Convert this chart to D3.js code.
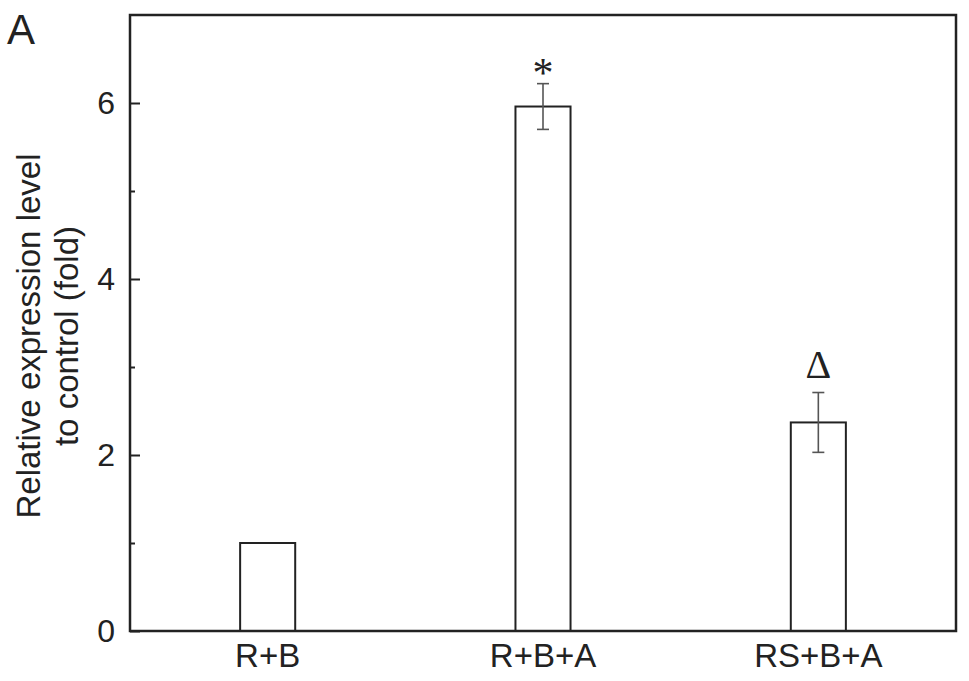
<!DOCTYPE html>
<html>
<head>
<meta charset="utf-8">
<script src="https://cdn.jsdelivr.net/npm/d3@7"></script>
<style>
  body { margin: 0; background: #fff; }
  svg { display: block; font-family: "Liberation Sans", Arial, sans-serif; }
</style>
</head>
<body>
<div id="chart"></div>
<script>
// data
const groups = ['R+B', 'R+B+A', 'RS+B+A'];
const means = [1.0, 5.96, 2.37];
const errors = [0, 0.26, 0.34];
const marks = ['', '*', '\u0394'];
const yTicks = [0, 2, 4, 6];
const yMinorTicks = [1, 3, 5];

const W = 969, H = 681;
const margin = {top: 15, right: 13, bottom: 50, left: 130};
const width = W - margin.left - margin.right;
const height = H - margin.top - margin.bottom;

const svg = d3.select('#chart').append('svg')
    .attr('width', W)
    .attr('height', H);

const g = svg.append('g')
    .attr('transform', 'translate(' + margin.left + ',' + margin.top + ')');

const x = d3.scaleBand()
    .domain(groups)
    .range([0, width])
    .paddingInner(0.8)
    .paddingOuter(0.4);

const y = d3.scaleLinear()
    .domain([0, 7])
    .range([height, 0]);

const ink = '#222';

// bars
g.selectAll('.bar')
    .data(groups)
    .enter().append('rect')
    .attr('class', 'bar')
    .attr('x', d => x(d))
    .attr('width', x.bandwidth())
    .attr('y', (d, i) => y(means[i]))
    .attr('height', (d, i) => height - y(means[i]))
    .attr('fill', '#fff')
    .attr('stroke', ink)
    .attr('stroke-width', 2);

// error bars
const cap = 6;
const eb = g.selectAll('.err')
    .data(groups.filter((d, i) => errors[i] > 0))
    .enter().append('g')
    .attr('class', 'err')
    .attr('stroke', '#555')
    .attr('stroke-width', 1.6);
eb.each(function(d) {
    const i = groups.indexOf(d);
    const cx = x(d) + x.bandwidth() / 2;
    const sel = d3.select(this);
    sel.append('line').attr('x1', cx).attr('x2', cx)
        .attr('y1', y(means[i] + errors[i])).attr('y2', y(means[i] - errors[i]));
    sel.append('line').attr('x1', cx - cap).attr('x2', cx + cap)
        .attr('y1', y(means[i] + errors[i])).attr('y2', y(means[i] + errors[i]));
    sel.append('line').attr('x1', cx - cap).attr('x2', cx + cap)
        .attr('y1', y(means[i] - errors[i])).attr('y2', y(means[i] - errors[i]));
});

// significance marks
g.selectAll('.mark')
    .data(groups)
    .enter().append('text')
    .attr('class', 'mark')
    .attr('x', d => x(d) + x.bandwidth() / 2)
    .attr('y', (d, i) => y(means[i] + errors[i]) - (marks[i] === '*' ? -3 : 15))
    .attr('text-anchor', 'middle')
    .style('font-family', '"Liberation Serif", "Times New Roman", serif')
    .style('font-size', (d, i) => marks[i] === '*' ? '42px' : '40px')
    .attr('fill', ink)
    .text((d, i) => marks[i]);

// y axis, major ticks inward
const yAxis = g.append('g')
    .call(d3.axisLeft(y).tickValues(yTicks).tickSize(-10).tickPadding(15).tickFormat(d3.format('d')));
yAxis.select('.domain').remove();
yAxis.selectAll('line').attr('stroke', ink).attr('stroke-width', 2);
yAxis.selectAll('text').style('font-size', '32px').attr('fill', ink);

// minor ticks
const yMinor = g.append('g')
    .call(d3.axisLeft(y).tickValues(yMinorTicks).tickSize(-5).tickFormat(''));
yMinor.select('.domain').remove();
yMinor.selectAll('line').attr('stroke', ink).attr('stroke-width', 2);

// x axis labels
const xAxis = g.append('g')
    .attr('transform', 'translate(0,' + height + ')')
    .call(d3.axisBottom(x).tickSize(0).tickPadding(13));
xAxis.select('.domain').remove();
xAxis.selectAll('text').style('font-size', '33px').attr('fill', ink);

// frame
g.append('rect')
    .attr('width', width)
    .attr('height', height)
    .attr('fill', 'none')
    .attr('stroke', ink)
    .attr('stroke-width', 2.5);

// y label, two lines
const yl = svg.append('text')
    .attr('transform', 'translate(40,' + (margin.top + height / 2 + 13) + ') rotate(-90)')
    .attr('text-anchor', 'middle')
    .style('font-size', '33px')
    .attr('fill', ink);
yl.append('tspan').attr('x', 0).attr('dy', 0).text('Relative expression level');
yl.append('tspan').attr('x', 0).attr('dy', 38).text('to control (fold)');

// panel letter
svg.append('text')
    .attr('x', 7)
    .attr('y', 44)
    .style('font-size', '42px')
    .attr('fill', ink)
    .text('A');
</script>
</body>
</html>
